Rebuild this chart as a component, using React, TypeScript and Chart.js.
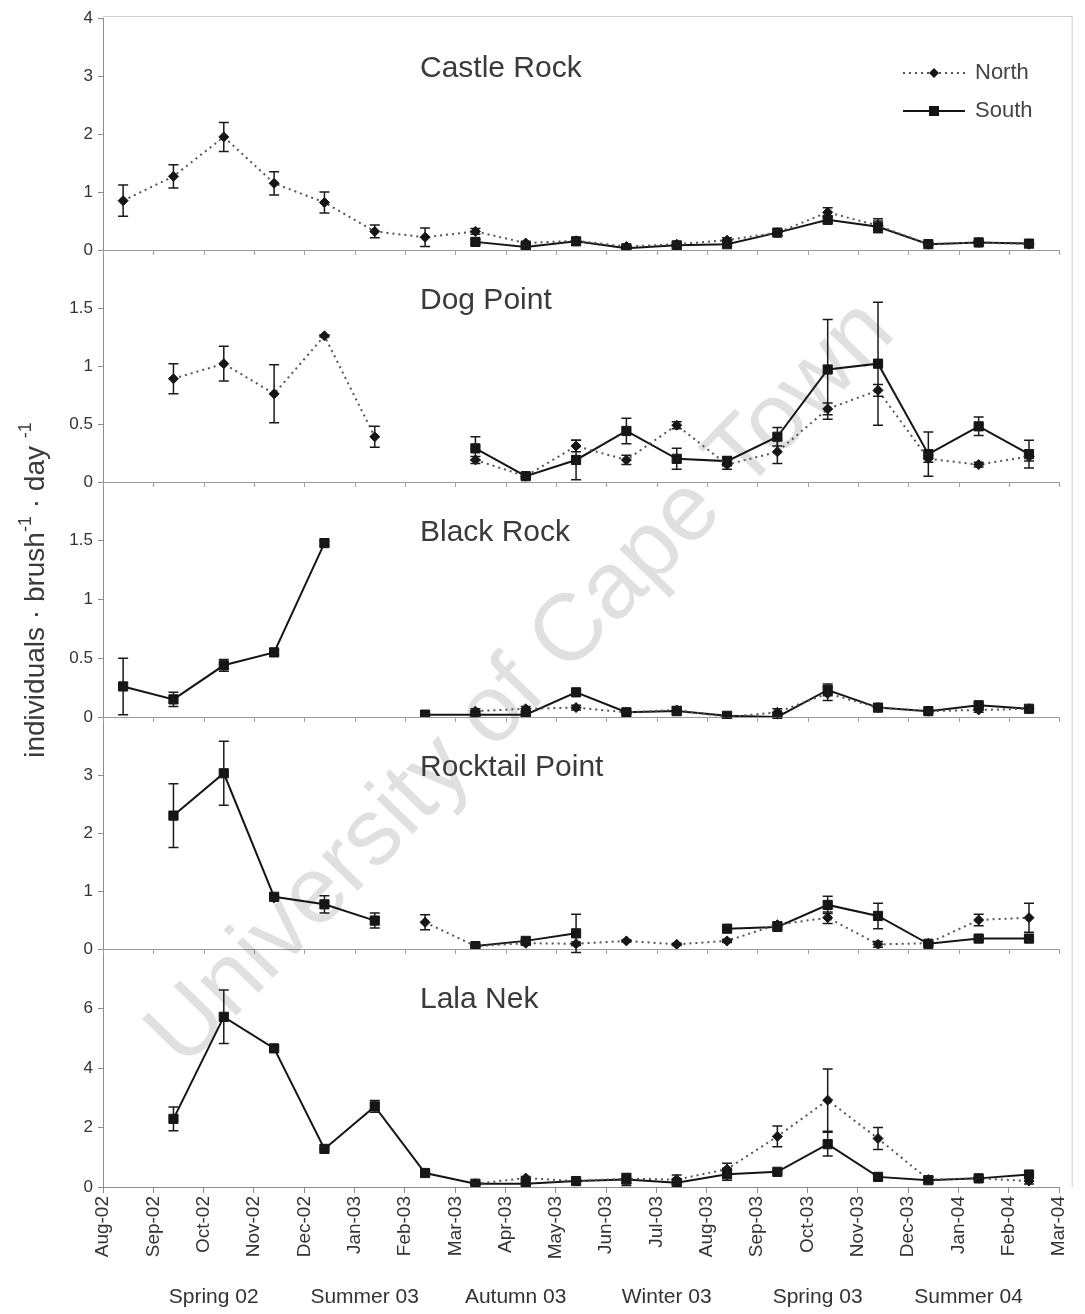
import React, { useEffect, useRef } from "react";
import { Chart, registerables } from "chart.js";

Chart.register(...registerables);

const FONT = "'Liberation Sans', Arial, sans-serif";
const TEXT = "#333333";
const AXIS = "#8c8c8c";

// Monthly axis (tick at the first of each month)
const MONTHS = [
  "Aug-02", "Sep-02", "Oct-02", "Nov-02", "Dec-02", "Jan-03", "Feb-03", "Mar-03",
  "Apr-03", "May-03", "Jun-03", "Jul-03", "Aug-03", "Sep-03", "Oct-03", "Nov-03",
  "Dec-03", "Jan-04", "Feb-04", "Mar-04",
];
// Samples were collected around the middle of each month
const SAMPLE_OFFSET = 0.4;

const SEASONS = ["Spring 02", "Summer 03", "Autumn 03", "Winter 03", "Spring 03", "Summer 04"];
const SEASON_FIRST_MONTH = 1;
const SEASON_LABEL_SHIFT = 1.2;

// ---- Castle Rock ----
const castleNorth = [0.85, 1.27, 1.95, 1.15, 0.82, 0.32, 0.22, 0.32, 0.12, 0.16, 0.06, 0.1, 0.17, 0.3, 0.65, 0.42, 0.1, 0.13, 0.1];
const castleNorthErr = [0.27, 0.2, 0.25, 0.2, 0.18, 0.11, 0.16, 0.05, 0.03, 0.04, 0.02, 0.03, 0.04, 0.05, 0.08, 0.12, 0.02, 0.02, 0.02];
const castleSouth = [null, null, null, null, null, null, null, 0.14, 0.05, 0.15, 0.03, 0.08, 0.1, 0.3, 0.52, 0.4, 0.1, 0.13, 0.11];
const castleSouthErr = [null, null, null, null, null, null, null, 0.04, 0.02, 0.03, 0.02, 0.02, 0.03, 0.05, 0.06, 0.1, 0.02, 0.02, 0.02];
const castleTicks = [0, 1, 2, 3, 4];

// ---- Dog Point ----
const dogNorth = [null, 0.89, 1.02, 0.76, 1.26, 0.39, null, 0.19, 0.05, 0.31, 0.19, 0.49, 0.15, 0.26, 0.63, 0.79, 0.2, 0.15, 0.22];
const dogNorthErr = [null, 0.13, 0.15, 0.25, 0.01, 0.09, null, 0.03, 0.02, 0.05, 0.04, 0.03, 0.04, 0.1, 0.05, 0.05, 0.03, 0.02, 0.04];
const dogSouth = [null, null, null, null, null, null, null, 0.29, 0.05, 0.19, 0.44, 0.2, 0.18, 0.39, 0.97, 1.02, 0.24, 0.48, 0.24];
const dogSouthErr = [null, null, null, null, null, null, null, 0.1, 0.02, 0.17, 0.11, 0.09, 0.04, 0.08, 0.43, 0.53, 0.19, 0.08, 0.12];
const dogTicks = [0, 0.5, 1, 1.5];

// ---- Black Rock ----
const blackNorth = [null, null, null, null, null, null, null, 0.05, 0.07, 0.08, 0.04, 0.06, 0.0, 0.04, 0.2, 0.08, 0.05, 0.06, 0.07];
const blackNorthErr = [null, null, null, null, null, null, null, 0.02, 0.02, 0.02, 0.01, 0.03, 0.01, 0.03, 0.06, 0.02, 0.01, 0.02, 0.02];
const blackSouth = [0.26, 0.15, 0.44, 0.55, 1.48, null, 0.02, 0.02, 0.02, 0.21, 0.04, 0.05, 0.01, 0.0, 0.23, 0.08, 0.05, 0.1, 0.07];
const blackSouthErr = [0.24, 0.06, 0.05, 0.02, 0.02, null, 0.01, 0.01, 0.01, 0.02, 0.01, 0.03, 0.02, 0.01, 0.05, 0.03, 0.01, 0.02, 0.02];
const blackTicks = [0, 0.5, 1, 1.5];

// ---- Rocktail Point ----
const rockNorth = [null, null, null, 0.88, null, null, 0.46, 0.05, 0.1, 0.09, 0.14, 0.08, 0.14, 0.42, 0.54, 0.08, 0.1, 0.5, 0.54];
const rockNorthErr = [null, null, null, 0.03, null, null, 0.13, 0.02, 0.03, 0.03, 0.02, 0.02, 0.03, 0.05, 0.1, 0.05, 0.03, 0.1, 0.25];
const rockSouth = [null, 2.3, 3.03, 0.9, 0.77, 0.49, null, 0.05, 0.14, 0.27, null, null, 0.35, 0.38, 0.76, 0.57, 0.09, 0.18, 0.18];
const rockSouthErr = [null, 0.55, 0.55, 0.03, 0.15, 0.13, null, 0.02, 0.03, 0.33, null, null, 0.05, 0.05, 0.15, 0.22, 0.04, 0.04, 0.05];
const rockTicks = [0, 1, 2, 3];

// ---- Lala Nek ----
const lalaNorth = [null, null, null, null, null, null, null, 0.11, 0.3, 0.2, 0.28, 0.25, 0.6, 1.7, 2.92, 1.63, 0.25, 0.29, 0.2];
const lalaNorthErr = [null, null, null, null, null, null, null, 0.04, 0.05, 0.05, 0.15, 0.15, 0.2, 0.35, 1.05, 0.37, 0.1, 0.05, 0.1];
const lalaSouth = [null, 2.29, 5.72, 4.66, 1.28, 2.71, 0.47, 0.11, 0.11, 0.2, 0.25, 0.14, 0.43, 0.51, 1.44, 0.34, 0.23, 0.29, 0.42];
const lalaSouthErr = [null, 0.4, 0.9, 0.05, 0.05, 0.2, 0.05, 0.04, 0.04, 0.05, 0.2, 0.05, 0.2, 0.05, 0.4, 0.05, 0.1, 0.05, 0.1];
const lalaTicks = [0, 2, 4, 6];

const PANELS = [
  { id: "yCastle", title: "Castle Rock", max: 4, ticks: castleTicks, north: castleNorth, northErr: castleNorthErr, south: castleSouth, southErr: castleSouthErr, share: 232 },
  { id: "yDog", title: "Dog Point", max: 2, ticks: dogTicks, north: dogNorth, northErr: dogNorthErr, south: dogSouth, southErr: dogSouthErr, share: 232 },
  { id: "yBlack", title: "Black Rock", max: 2, ticks: blackTicks, north: blackNorth, northErr: blackNorthErr, south: blackSouth, southErr: blackSouthErr, share: 235 },
  { id: "yRock", title: "Rocktail Point", max: 4, ticks: rockTicks, north: rockNorth, northErr: rockNorthErr, south: rockSouth, southErr: rockSouthErr, share: 232 },
  { id: "yLala", title: "Lala Nek", max: 8, ticks: lalaTicks, north: lalaNorth, northErr: lalaNorthErr, south: lalaSouth, southErr: lalaSouthErr, share: 238 },
];

const NORTH_STYLE = {
  borderColor: "#555555",
  borderWidth: 2,
  borderDash: [2, 4],
  pointStyle: "rectRot",
  pointRadius: 5,
  pointBackgroundColor: "#151515",
  pointBorderColor: "#151515",
  pointBorderWidth: 1,
};
const SOUTH_STYLE = {
  borderColor: "#151515",
  borderWidth: 2,
  pointStyle: "rect",
  pointRadius: 6.5,
  pointBackgroundColor: "#151515",
  pointBorderColor: "#151515",
  pointBorderWidth: 1,
};

const toPoints = (vals: (number | null)[]) =>
  vals.map((v, i) => ({ x: i + SAMPLE_OFFSET, y: v }));

function drawDiamond(ctx: CanvasRenderingContext2D, x: number, y: number, r: number) {
  ctx.beginPath();
  ctx.moveTo(x, y - r);
  ctx.lineTo(x + r, y);
  ctx.lineTo(x, y + r);
  ctx.lineTo(x - r, y);
  ctx.closePath();
  ctx.fill();
}

const decorPlugin = {
  id: "panelDecor",
  beforeDatasetsDraw(chart: any) {
    const { ctx, chartArea } = chart;
    const xs = chart.scales.x;
    ctx.save();
    // light frame top and right
    ctx.strokeStyle = "#cfcfcf";
    ctx.lineWidth = 1;
    ctx.beginPath();
    ctx.moveTo(chartArea.left, chartArea.top - 1.5);
    ctx.lineTo(chartArea.right + 13, chartArea.top - 1.5);
    ctx.lineTo(chartArea.right + 13, chartArea.bottom);
    ctx.stroke();

    // month ticks on each panel baseline
    ctx.strokeStyle = "#a0a0a0";
    PANELS.slice(0, -1).forEach((p) => {
      const ys = chart.scales[p.id];
      const y0 = ys.getPixelForValue(0);
      ctx.beginPath();
      MONTHS.forEach((_, i) => {
        const x = Math.round(xs.getPixelForValue(i)) + 0.5;
        ctx.moveTo(x, y0);
        ctx.lineTo(x, y0 + 5);
      });
      ctx.stroke();
    });

    // watermark
    ctx.translate(522, 684);
    ctx.rotate(-0.80);
    ctx.fillStyle = "rgba(0,0,0,0.12)";
    ctx.font = `95px ${FONT}`;
    ctx.textAlign = "center";
    ctx.textBaseline = "middle";
    ctx.fillText("University of Cape Town", 0, 0);
    ctx.restore();
  },
  afterDatasetsDraw(chart: any) {
    const { ctx, chartArea } = chart;
    const xs = chart.scales.x;
    ctx.save();

    // error bars
    chart.data.datasets.forEach((ds: any, di: number) => {
      const meta = chart.getDatasetMeta(di);
      const ys = chart.scales[ds.yAxisID];
      ctx.strokeStyle = "#1a1a1a";
      ctx.lineWidth = 1.5;
      ctx.setLineDash([]);
      meta.data.forEach((pt: any, i: number) => {
        const v = ds.data[i].y;
        const e = ds.errors[i];
        if (v == null || !e) return;
        const x = pt.x;
        const yt = ys.getPixelForValue(v + e);
        const yb = ys.getPixelForValue(v - e);
        ctx.beginPath();
        ctx.moveTo(x, yt);
        ctx.lineTo(x, yb);
        ctx.moveTo(x - 5, yt);
        ctx.lineTo(x + 5, yt);
        ctx.moveTo(x - 5, yb);
        ctx.lineTo(x + 5, yb);
        ctx.stroke();
      });
    });

    // panel titles
    ctx.fillStyle = "#3a3a3a";
    ctx.font = `30px ${FONT}`;
    ctx.textAlign = "left";
    ctx.textBaseline = "middle";
    PANELS.forEach((p) => {
      const ys = chart.scales[p.id];
      ctx.fillText(p.title, chartArea.left + 317, ys.top + 51);
    });

    // legend
    const lx0 = chartArea.left + 800;
    const lx1 = chartArea.left + 862;
    const lxm = (lx0 + lx1) / 2;
    const top = chart.scales[PANELS[0].id].top;
    const yN = top + 55;
    const yS = top + 93;
    ctx.strokeStyle = "#555555";
    ctx.lineWidth = 2;
    ctx.setLineDash([2, 4]);
    ctx.beginPath();
    ctx.moveTo(lx0, yN);
    ctx.lineTo(lx1, yN);
    ctx.stroke();
    ctx.setLineDash([]);
    ctx.fillStyle = "#151515";
    drawDiamond(ctx, lxm, yN, 5);
    ctx.strokeStyle = "#151515";
    ctx.beginPath();
    ctx.moveTo(lx0, yS);
    ctx.lineTo(lx1, yS);
    ctx.stroke();
    ctx.fillRect(lxm - 5, yS - 5, 10, 10);
    ctx.fillStyle = "#444444";
    ctx.font = `22px ${FONT}`;
    ctx.fillText("North", lx1 + 10, yN);
    ctx.fillText("South", lx1 + 10, yS);

    // season labels
    ctx.fillStyle = TEXT;
    ctx.font = `21px ${FONT}`;
    ctx.textAlign = "center";
    SEASONS.forEach((s, k) => {
      const x = xs.getPixelForValue(SEASON_FIRST_MONTH + 3 * k + SEASON_LABEL_SHIFT);
      ctx.fillText(s, x, 1297);
    });

    // y axis title with superscripts
    const parts = [
      { t: "individuals \u00b7 brush", sup: false },
      { t: "-1", sup: true },
      { t: " \u00b7 day ", sup: false },
      { t: "-1", sup: true },
    ];
    const mainFont = `28px ${FONT}`;
    const supFont = `18px ${FONT}`;
    let total = 0;
    const widths = parts.map((p) => {
      ctx.font = p.sup ? supFont : mainFont;
      const w = ctx.measureText(p.t).width;
      total += w;
      return w;
    });
    ctx.translate(36, 590);
    ctx.rotate(-Math.PI / 2);
    ctx.textAlign = "left";
    ctx.textBaseline = "middle";
    ctx.fillStyle = "#3a3a3a";
    let cx = -total / 2;
    parts.forEach((p, i) => {
      ctx.font = p.sup ? supFont : mainFont;
      ctx.fillText(p.t, cx, p.sup ? -10 : 0);
      cx += widths[i];
    });
    ctx.restore();
  },
};

export default function App() {
  const ref = useRef<HTMLCanvasElement | null>(null);

  useEffect(() => {
    document.body.style.margin = "0";
    const canvas = ref.current;
    if (!canvas) return;

    const datasets: any[] = [];
    PANELS.forEach((p) => {
      datasets.push({
        label: `${p.title} North`,
        yAxisID: p.id,
        data: toPoints(p.north),
        errors: p.northErr,
        ...NORTH_STYLE,
      });
      datasets.push({
        label: `${p.title} South`,
        yAxisID: p.id,
        data: toPoints(p.south),
        errors: p.southErr,
        ...SOUTH_STYLE,
      });
    });

    const scales: any = {
      x: {
        type: "linear",
        position: "bottom",
        min: 0,
        max: MONTHS.length - 1,
        afterBuildTicks: (s: any) => {
          s.ticks = MONTHS.map((_, i) => ({ value: i }));
        },
        afterFit: (s: any) => {
          s.height = 127;
        },
        ticks: {
          autoSkip: false,
          minRotation: 90,
          maxRotation: 90,
          padding: 3,
          color: TEXT,
          font: { family: FONT, size: 19 },
          callback: (v: number) => MONTHS[Math.round(v)],
        },
        grid: { drawOnChartArea: false, color: AXIS, tickLength: 6 },
        border: { color: AXIS },
      },
    };

    PANELS.forEach((p, k) => {
      scales[p.id] = {
        type: "linear",
        position: "left",
        stack: "sites",
        stackWeight: p.share,
        weight: PANELS.length - k,
        min: 0,
        max: p.max,
        afterBuildTicks: (s: any) => {
          s.ticks = p.ticks.map((v) => ({ value: v }));
        },
        afterFit: (s: any) => {
          s.width = 103;
        },
        ticks: {
          color: TEXT,
          padding: 5,
          font: { family: FONT, size: 17 },
          callback: (v: number) => String(v),
        },
        grid: {
          drawOnChartArea: true,
          lineWidth: 1,
          tickLength: 5,
          color: (c: any) => (c.tick && c.tick.value === 0 ? "#9a9a9a" : "rgba(0,0,0,0)"),
          tickColor: AXIS,
        },
        border: { display: true, color: AXIS, width: 1 },
      };
    });

    const chart = new Chart(canvas, {
      type: "line",
      data: { datasets },
      options: {
        responsive: false,
        animation: false,
        devicePixelRatio: 1,
        spanGaps: false,
        layout: { padding: { top: 18, right: 15, left: 0, bottom: 0 } },
        plugins: { legend: { display: false }, tooltip: { enabled: false } },
        scales,
      },
      plugins: [decorPlugin],
    } as any);

    return () => chart.destroy();
  }, []);

  return (
    <div style={{ width: 1085, height: 1314, background: "#ffffff" }}>
      <canvas ref={ref} width={1085} height={1314} style={{ display: "block" }} />
    </div>
  );
}
